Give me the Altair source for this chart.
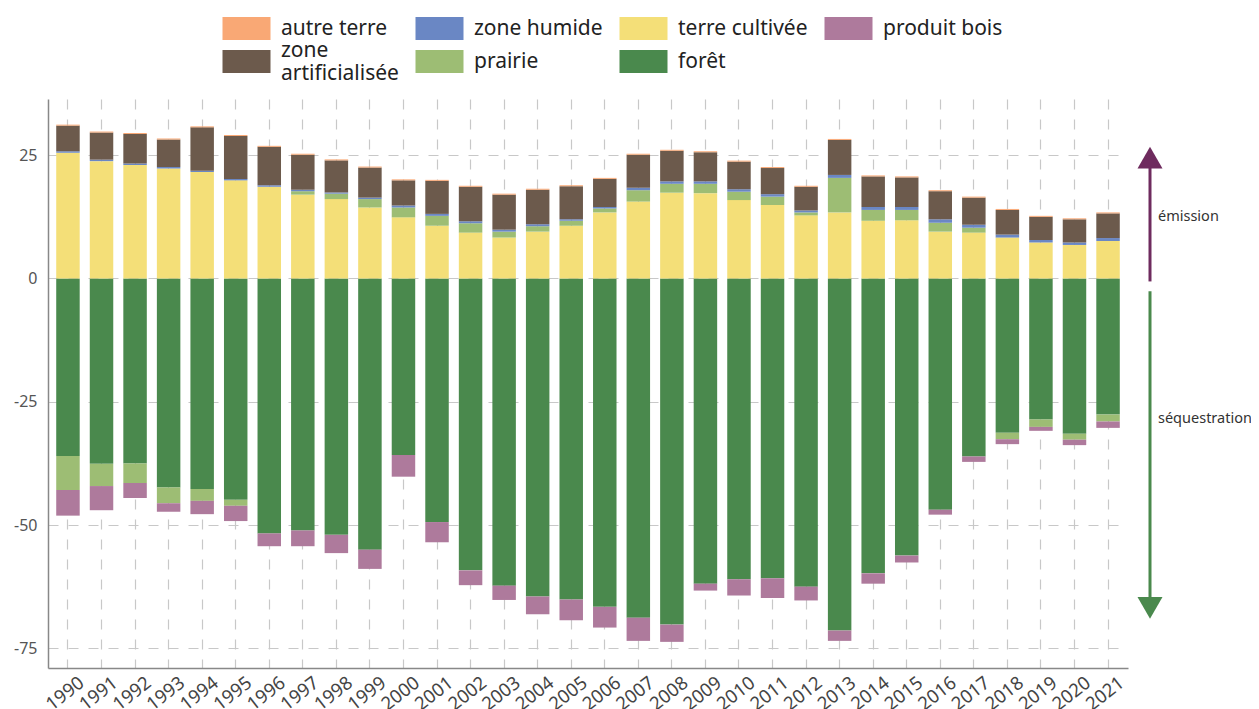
import altair as alt
import pandas as pd

years = [str(y) for y in range(1990, 2022)]

foret = [-36.0, -37.6, -37.5, -42.4, -42.7, -44.9, -51.7, -51.1, -52.0, -55.0,
         -35.8, -49.4, -59.2, -62.3, -64.5, -65.1, -66.6, -68.8, -70.2, -61.9,
         -61.0, -60.8, -62.5, -71.4, -59.8, -56.2, -46.9, -36.1, -31.3, -28.6,
         -31.5, -27.6]
prairie = [-6.9, -4.5, -4.0, -3.2, -2.4, -1.2, 0.0, 0.7, 1.1, 1.7,
           2.0, 2.0, 1.9, 1.2, 1.1, 1.0, 0.8, 2.3, 1.8, 1.9,
           1.7, 1.7, 0.6, 7.0, 2.2, 2.1, 1.8, 1.0, -1.3, -1.5,
           -1.2, -1.4]
produit_bois = [-5.2, -4.9, -3.0, -1.7, -2.7, -3.1, -2.6, -3.2, -3.7, -3.9,
                -4.4, -4.1, -3.0, -2.9, -3.6, -4.2, -4.2, -4.7, -3.5, -1.4,
                -3.3, -4.0, -2.8, -2.1, -2.1, -1.4, -1.0, -1.1, -1.0, -0.8,
                -1.1, -1.3]
terre_cultivee = [25.5, 23.8, 23.0, 22.3, 21.6, 19.9, 18.6, 17.0, 16.1, 14.4,
                  12.4, 10.7, 9.3, 8.3, 9.5, 10.7, 13.4, 15.6, 17.4, 17.3,
                  15.9, 14.9, 12.8, 13.4, 11.7, 11.8, 9.5, 9.3, 8.3, 7.3,
                  6.8, 7.6]
zone_humide = [0.3, 0.3, 0.3, 0.3, 0.25, 0.3, 0.3, 0.3, 0.25, 0.3,
               0.4, 0.4, 0.4, 0.4, 0.4, 0.3, 0.3, 0.5, 0.5, 0.5,
               0.5, 0.5, 0.4, 0.6, 0.6, 0.6, 0.7, 0.6, 0.6, 0.5,
               0.5, 0.6]
zone_artificialisee = [5.2, 5.5, 6.0, 5.6, 8.8, 8.7, 7.8, 7.1, 6.5, 6.1,
                       5.1, 6.7, 7.0, 7.1, 7.0, 6.7, 5.7, 6.7, 6.2, 5.9,
                       5.6, 5.3, 4.8, 7.1, 6.2, 6.0, 5.7, 5.5, 5.0, 4.7,
                       4.7, 5.0]
autre_terre = [0.2] * 32

# legend order (row by row) and colours
categories = ["autre terre", "zone humide", "terre cultivée", "produit bois",
              "zone artificialisée", "prairie", "forêt"]
colors = ["#F9A875", "#6A87C4", "#F4DF78", "#AE7A9C",
          "#6C5A4C", "#9DBD74", "#4A894D"]
# stacking order (from zero outward)
stack_order = ["forêt", "terre cultivée", "prairie", "zone humide",
               "zone artificialisée", "autre terre", "produit bois"]

series = {
    "forêt": foret,
    "terre cultivée": terre_cultivee,
    "prairie": prairie,
    "zone humide": zone_humide,
    "zone artificialisée": zone_artificialisee,
    "autre terre": autre_terre,
    "produit bois": produit_bois,
}

rows = []
for name, vals in series.items():
    for yr, v in zip(years, vals):
        rows.append({"annee": yr, "categorie": name, "valeur": v,
                     "ordre": stack_order.index(name)})
df = pd.DataFrame(rows)

# annotation positions (data units on the y axis)
emission_line = [-0.6, 23.0]
emission_head = [24.5]
emission_label = [12.4]
seq_line = [-2.6, -65.0]
seq_head = [-66.8]
seq_label = [-28.6]

purple = "#6E2B5E"
green = "#4A894D"
FONT = "Noto Sans"

yscale = alt.Scale(domain=[-79, 36.4], nice=False, zero=False)
yaxis = alt.Axis(title=None, values=[-75, -50, -25, 0, 25],
                 labelExpr="'' + datum.value",
                 labelFontSize=16, labelColor="#555",
                 labelPadding=11, ticks=False, tickSize=0,
                 domainColor="#888", domainWidth=1.5, grid=True,
                 gridDash=[10, 10], gridColor="#c8c8c8", gridWidth=1.2)

bars = alt.Chart(df).mark_bar().encode(
    x=alt.X("annee:N", sort=years,
            scale=alt.Scale(paddingInner=0.3, paddingOuter=0.245),
            axis=alt.Axis(title=None, labelAngle=-38, labelAlign="center",
                          labelBaseline="middle", labelPadding=25,
                          labelOffset=-3,
                          labelFontSize=18.5, labelColor="#444",
                          ticks=False, tickSize=0, domainColor="#888",
                          domainWidth=1.5, grid=True, gridDash=[10, 10],
                          gridColor="#c8c8c8", gridWidth=1.2,
                          bandPosition=0.5)),
    y=alt.Y("valeur:Q", stack="zero", scale=yscale, axis=yaxis),
    color=alt.Color("categorie:N",
                    scale=alt.Scale(domain=categories, range=colors),
                    legend=alt.Legend(
                        title=None, orient="none", legendX=187, legendY=-82,
                        columns=4, direction="horizontal",
                        symbolType="M-2.087,-1H2.087V1H-2.087Z",
                        symbolSize=529, symbolStrokeWidth=0,
                        symbolOpacity=1, labelFont=FONT, labelFontSize=21,
                        labelColor="#222", labelOffset=23, labelLimit=400,
                        columnPadding=16, rowPadding=-1,
                        labelBaseline=alt.ExprRef(
                            "datum.value == 'zone artificialisée' ? 'line-bottom' : 'middle'"),
                        labelExpr="datum.label == 'zone artificialisée' ? ['zone', 'artificialisée'] : datum.label")),
    order=alt.Order("ordre:Q", sort="ascending"),
)

up_df = pd.DataFrame({"y0": [emission_line[0]], "y1": [emission_line[1]]})
down_df = pd.DataFrame({"y0": [seq_line[0]], "y1": [seq_line[1]]})

rule_up = alt.Chart(up_df).mark_rule(color=purple, strokeWidth=3).encode(
    x=alt.value(1102),
    y=alt.Y("y0:Q", scale=yscale, axis=yaxis),
    y2="y1:Q",
)
rule_down = alt.Chart(down_df).mark_rule(color=green, strokeWidth=3).encode(
    x=alt.value(1102),
    y=alt.Y("y0:Q", scale=yscale, axis=yaxis),
    y2="y1:Q",
)
head_up = alt.Chart(pd.DataFrame({"y": emission_head})).mark_point(
    shape="triangle-up", filled=True, size=625, color=purple, opacity=1
).encode(x=alt.value(1102), y=alt.Y("y:Q", scale=yscale, axis=yaxis))
head_down = alt.Chart(pd.DataFrame({"y": seq_head})).mark_point(
    shape="triangle-down", filled=True, size=625, color=green, opacity=1
).encode(x=alt.value(1102), y=alt.Y("y:Q", scale=yscale, axis=yaxis))

text_em = alt.Chart(pd.DataFrame({"y": emission_label, "t": ["émission"]})).mark_text(
    align="left", baseline="middle", font=FONT, fontSize=14.5, color="#333"
).encode(x=alt.value(1110), y=alt.Y("y:Q", scale=yscale, axis=yaxis), text="t:N")
text_seq = alt.Chart(pd.DataFrame({"y": seq_label, "t": ["séquestration"]})).mark_text(
    align="left", baseline="middle", font=FONT, fontSize=14.5, color="#333"
).encode(x=alt.value(1110), y=alt.Y("y:Q", scale=yscale, axis=yaxis), text="t:N")

chart = alt.layer(bars, rule_up, rule_down, head_up, head_down, text_em, text_seq).properties(
    width=1080, height=569,
    autosize=alt.AutoSizeParams(type="none"),
    padding={"left": 40, "top": 91, "right": 123, "bottom": 41},
).configure(font=FONT).configure_view(strokeWidth=0)

chart.save("out.html", embed_options={"renderer": "svg", "actions": False})
